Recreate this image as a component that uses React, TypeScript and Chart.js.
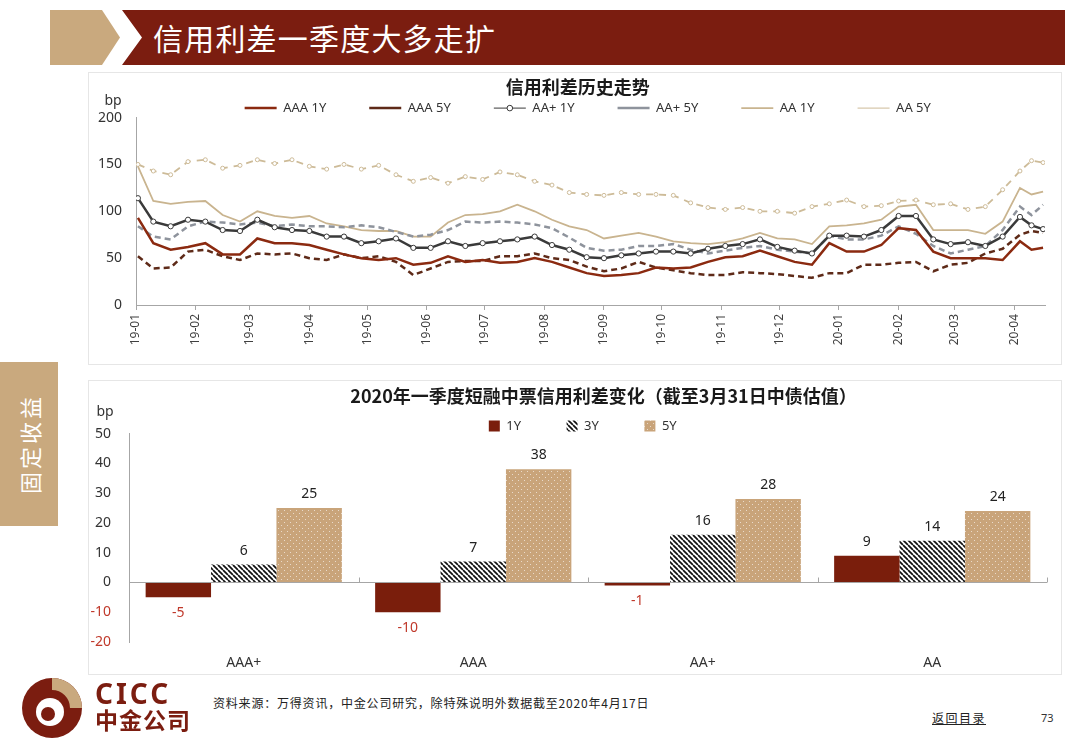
import React, { useEffect, useRef } from "react";
import { Chart, registerables } from "chart.js";

Chart.register(...registerables);

// ---------------- data ----------------
const dates = [
  "2019-01-02", "2019-01-10", "2019-01-19", "2019-01-28", "2019-02-06", "2019-02-15", "2019-02-24",
  "2019-03-05", "2019-03-14", "2019-03-23", "2019-04-01", "2019-04-10", "2019-04-19", "2019-04-28",
  "2019-05-07", "2019-05-16", "2019-05-25", "2019-06-03", "2019-06-12", "2019-06-21", "2019-06-30",
  "2019-07-09", "2019-07-18", "2019-07-27", "2019-08-05", "2019-08-14", "2019-08-23", "2019-09-01",
  "2019-09-10", "2019-09-19", "2019-09-28", "2019-10-07", "2019-10-16", "2019-10-25", "2019-11-03",
  "2019-11-12", "2019-11-21", "2019-11-30", "2019-12-09", "2019-12-18", "2019-12-27", "2020-01-05",
  "2020-01-14", "2020-01-23", "2020-02-01", "2020-02-10", "2020-02-19", "2020-02-28", "2020-03-08",
  "2020-03-17", "2020-03-26", "2020-04-04", "2020-04-10", "2020-04-16",
];

const aaa1y = [93, 66, 59, 62, 66, 54, 54, 71, 66, 66, 64, 59, 54, 50, 48, 50, 43, 45, 52, 46, 48, 45, 46, 50, 46, 40, 34, 31, 32, 34, 40, 39, 40, 46, 51, 52, 58, 52, 46, 43, 66, 57, 57, 64, 82, 80, 57, 50, 50, 50, 48, 68, 59, 61];
const aaa5y = [52, 39, 40, 57, 59, 52, 48, 55, 54, 55, 50, 48, 54, 50, 52, 46, 32, 39, 46, 47, 47, 52, 52, 55, 50, 48, 41, 36, 39, 46, 40, 37, 34, 32, 32, 35, 34, 33, 31, 29, 34, 34, 43, 43, 45, 46, 36, 43, 45, 55, 60, 75, 79, 77];
const aap1y = [114, 89, 84, 91, 89, 80, 79, 91, 83, 80, 79, 73, 73, 66, 68, 71, 61, 61, 68, 63, 66, 68, 70, 73, 64, 59, 51, 50, 53, 55, 57, 57, 55, 60, 63, 65, 70, 62, 58, 55, 74, 74, 73, 80, 95, 95, 70, 65, 67, 63, 73, 94, 85, 81];
const aap5y = [84, 73, 70, 84, 89, 88, 86, 88, 84, 86, 84, 84, 83, 85, 83, 78, 73, 75, 80, 89, 88, 89, 88, 86, 82, 72, 61, 58, 59, 63, 63, 65, 59, 55, 58, 61, 63, 59, 57, 55, 74, 70, 70, 74, 84, 76, 63, 55, 59, 63, 80, 105, 96, 107];
const aa1y = [148, 111, 108, 110, 111, 96, 89, 100, 95, 93, 95, 87, 84, 80, 79, 79, 73, 73, 88, 96, 97, 100, 107, 100, 91, 84, 80, 71, 74, 77, 73, 68, 66, 65, 67, 71, 77, 71, 70, 65, 84, 85, 87, 91, 105, 107, 80, 80, 80, 76, 89, 125, 118, 121];
const aa5y = [150, 143, 139, 153, 155, 146, 149, 155, 151, 155, 148, 145, 150, 145, 149, 139, 132, 136, 130, 137, 134, 142, 139, 132, 128, 120, 118, 117, 120, 118, 118, 117, 109, 104, 102, 104, 100, 100, 98, 105, 108, 112, 105, 106, 111, 112, 107, 108, 102, 105, 123, 143, 154, 152];

const lineSeriesNames = ["AAA 1Y", "AAA 5Y", "AA+ 1Y", "AA+ 5Y", "AA 1Y", "AA 5Y"];
const monthTicks = ["19-01", "19-02", "19-03", "19-04", "19-05", "19-06", "19-07", "19-08", "19-09", "19-10", "19-11", "19-12", "20-01", "20-02", "20-03", "20-04"];
const yTicksLine = [0, 50, 100, 150, 200];

const barCategories = ["AAA+", "AAA", "AA+", "AA"];
const barSeriesNames = ["1Y", "3Y", "5Y"];
const bar1Y = [-5, -10, -1, 9];
const bar3Y = [6, 7, 16, 14];
const bar5Y = [25, 38, 28, 24];

// ---------------- helpers ----------------
const DAY = 86400000;
const BASE = Date.UTC(2019, 0, 1);
const dayOf = (s: string) => {
  const [y, m, d] = s.split("-").map(Number);
  return Math.round((Date.UTC(y, m - 1, d) - BASE) / DAY);
};
const monthDay = (t: string) => {
  const [yy, mm] = t.split("-").map(Number);
  return Math.round((Date.UTC(2000 + yy, mm - 1, 1) - BASE) / DAY);
};
const END_DAY = dayOf("2020-04-17");

const LATIN = "'Noto Sans', 'DejaVu Sans', sans-serif";
const CJK = "'Noto Sans CJK SC', 'Noto Sans', sans-serif";
const EM = "\u2003";
const DARK_RED = "#7B1D10";
const TAN = "#C9A97E";
const AXIS = "#A6A6A6";
const CLEAR = "rgba(0,0,0,0)";

function makeHatch(): CanvasPattern | string {
  const s = 5;
  const c = document.createElement("canvas");
  c.width = s;
  c.height = s;
  const g = c.getContext("2d");
  if (!g) return "#555";
  g.fillStyle = "#ffffff";
  g.fillRect(0, 0, s, s);
  g.strokeStyle = "#111111";
  g.lineWidth = 1.7;
  g.beginPath();
  for (const x0 of [-s, 0, s]) {
    g.moveTo(x0, 0);
    g.lineTo(x0 + s, s);
  }
  g.stroke();
  return g.createPattern(c, "repeat") || "#555";
}

function makeDots(): CanvasPattern | string {
  const s = 6;
  const c = document.createElement("canvas");
  c.width = s;
  c.height = s;
  const g = c.getContext("2d");
  if (!g) return "#C9A47A";
  g.fillStyle = "#C9A47A";
  g.fillRect(0, 0, s, s);
  g.fillStyle = "rgba(255,255,255,0.6)";
  g.fillRect(1, 1, 1, 1);
  g.fillRect(4, 4, 1, 1);
  return g.createPattern(c, "repeat") || "#C9A47A";
}

const unitLabel = (dx: number, dy: number) => ({
  id: "unitLabel",
  afterDraw(chart: any) {
    const { ctx, chartArea } = chart;
    ctx.save();
    ctx.font = `14px ${LATIN}`;
    ctx.fillStyle = "#333";
    ctx.textAlign = "center";
    ctx.textBaseline = "middle";
    ctx.fillText("bp", chartArea.left + dx, chartArea.top + dy);
    ctx.restore();
  },
});

// invisible leading legend entry, used only to offset the centred legend row
const spacerItem = (pointStyle: string) => ({
  text: "",
  fillStyle: CLEAR,
  strokeStyle: CLEAR,
  lineWidth: 0,
  pointStyle,
  hidden: false,
  datasetIndex: -1,
});

function makeLineChart(canvas: HTMLCanvasElement) {
  const pts = (arr: number[]) => dates.map((d, i) => ({ x: dayOf(d), y: arr[i] }));
  const tickVals = monthTicks.map(monthDay);
  const tickLabel = new Map(monthTicks.map((t) => [monthDay(t), t]));
  const series = [aaa1y, aaa5y, aap1y, aap5y, aa1y, aa5y];
  const styles: any[] = [
    { borderColor: "#8B2A10", borderWidth: 2.5, pointRadius: 0 },
    { borderColor: "#5E2A18", borderWidth: 2.5, borderDash: [6, 4], pointRadius: 0 },
    { borderColor: "#3A3A3A", borderWidth: 2.5, pointRadius: 2.6, pointBackgroundColor: "#fff", pointBorderColor: "#3A3A3A", pointBorderWidth: 1 },
    { borderColor: "#8E939C", borderWidth: 2.5, borderDash: [6, 4], pointRadius: 0 },
    { borderColor: "#C9B48F", borderWidth: 1.8, pointRadius: 0 },
    { borderColor: "#CDBB98", borderWidth: 1.8, borderDash: [7, 6], pointRadius: 2, pointBackgroundColor: "#fff", pointBorderColor: "#CDBB98", pointBorderWidth: 1 },
  ];
  const legendMarker = {
    id: "legendMarker",
    afterDraw(chart: any) {
      const lg = chart.legend;
      if (!lg || !lg.legendHitBoxes || !lg.legendHitBoxes[3]) return;
      const hb = lg.legendHitBoxes[3];
      const { ctx } = chart;
      ctx.save();
      ctx.beginPath();
      ctx.arc(hb.left + 16, hb.top + 6.5, 2.8, 0, Math.PI * 2);
      ctx.fillStyle = "#fff";
      ctx.fill();
      ctx.lineWidth = 1;
      ctx.strokeStyle = "#3A3A3A";
      ctx.stroke();
      ctx.restore();
    },
  };
  return new Chart(canvas, {
    type: "line",
    data: {
      datasets: series.map((arr, i) => ({
        label: lineSeriesNames[i],
        data: pts(arr),
        tension: 0,
        fill: false,
        pointHoverRadius: 0,
        ...styles[i],
      })),
    },
    options: {
      responsive: false,
      animation: false,
      devicePixelRatio: 1,
      events: [],
      layout: { padding: { left: 0, right: 17, top: 0, bottom: 0 } },
      plugins: {
        title: {
          display: true,
          text: EM + "\u2005" + "信用利差历史走势",
          color: "#1a1a1a",
          font: { family: CJK, size: 18, weight: "bold", lineHeight: 1.2 },
          padding: { top: 4, bottom: 0 },
        },
        legend: {
          display: true,
          position: "top",
          maxHeight: 20,
          labels: {
            usePointStyle: true,
            pointStyle: "line",
            pointStyleWidth: 32,
            boxHeight: 13,
            padding: 4,
            color: "#333",
            font: { family: LATIN, size: 13 },
            generateLabels: (chart: any) => {
              const items = (Chart as any).defaults.plugins.legend.labels.generateLabels(chart);
              const real = items.map((it: any, i: number) => ({
                ...it,
                pointStyle: "line",
                text: it.text + (i < items.length - 1 ? EM + EM + EM : ""),
              }));
              return [spacerItem("line"), ...real];
            },
          },
        },
        tooltip: { enabled: false },
      },
      scales: {
        x: {
          type: "linear",
          min: 0,
          max: END_DAY,
          afterBuildTicks: (s: any) => {
            s.ticks = tickVals.map((v) => ({ value: v }));
          },
          afterFit: (s: any) => {
            s.height = 60;
          },
          ticks: {
            autoSkip: false,
            maxRotation: 90,
            minRotation: 90,
            padding: 4,
            color: "#404040",
            font: { family: LATIN, size: 12 },
            callback: (v: any) => tickLabel.get(Number(v)) ?? "",
          },
          grid: { display: true, drawOnChartArea: false, drawTicks: true, tickLength: 5, color: AXIS },
          border: { display: true, color: AXIS },
        },
        y: {
          min: 0,
          max: 200,
          afterBuildTicks: (s: any) => {
            s.ticks = yTicksLine.map((v) => ({ value: v }));
          },
          afterFit: (s: any) => {
            s.width = 48;
          },
          ticks: { padding: 14, color: "#333", font: { family: LATIN, size: 14 } },
          grid: { display: false, drawTicks: false },
          border: { display: true, color: AXIS },
        },
      },
    } as any,
    plugins: [legendMarker, unitLabel(-23, -17)],
  } as any);
}

function makeBarChart(canvas: HTMLCanvasElement) {
  const fills: any[] = ["#7A1E0C", makeHatch(), makeDots()];
  const values = [bar1Y, bar3Y, bar5Y];
  const barValues = {
    id: "barValues",
    afterDatasetsDraw(chart: any) {
      const { ctx } = chart;
      ctx.save();
      ctx.font = `14px ${LATIN}`;
      ctx.textAlign = "center";
      ctx.textBaseline = "middle";
      chart.data.datasets.forEach((ds: any, di: number) => {
        const meta = chart.getDatasetMeta(di);
        meta.data.forEach((el: any, i: number) => {
          const v = ds.data[i] as number;
          if (v >= 0) {
            ctx.fillStyle = "#222";
            ctx.fillText(String(v), el.x, el.y - 14);
          } else {
            ctx.fillStyle = "#C0392B";
            ctx.fillText(String(v), el.x, el.y + 16);
          }
        });
      });
      ctx.restore();
    },
  };
  const catTicks = {
    id: "catTicks",
    afterDatasetsDraw(chart: any) {
      const { ctx, chartArea, scales } = chart;
      const y0 = Math.round(scales.y.getPixelForValue(0)) + 0.5;
      const n = barCategories.length;
      ctx.save();
      ctx.strokeStyle = AXIS;
      ctx.lineWidth = 1;
      ctx.beginPath();
      for (let i = 1; i <= n; i++) {
        const x = Math.round(chartArea.left + (i * (chartArea.right - chartArea.left)) / n) + 0.5;
        ctx.moveTo(x, y0 - 5);
        ctx.lineTo(x, y0);
      }
      ctx.stroke();
      ctx.restore();
    },
  };
  return new Chart(canvas, {
    type: "bar",
    data: {
      labels: barCategories,
      datasets: values.map((arr, i) => ({
        label: barSeriesNames[i],
        data: arr,
        backgroundColor: fills[i],
        borderWidth: 0,
        categoryPercentage: 0.855,
        barPercentage: 1,
      })),
    },
    options: {
      responsive: false,
      animation: false,
      devicePixelRatio: 1,
      events: [],
      layout: { padding: { left: 0, right: 15, top: 0, bottom: 0 } },
      plugins: {
        title: {
          display: true,
          text: EM + EM + EM + EM + "2020年一季度短融中票信用利差变化（截至3月31日中债估值）",
          color: "#1a1a1a",
          font: { family: CJK, size: 18, weight: "bold", lineHeight: 1.2 },
          padding: { top: 5, bottom: 0 },
        },
        legend: {
          display: true,
          position: "top",
          maxHeight: 27,
          labels: {
            boxWidth: 11,
            boxHeight: 11,
            padding: 13,
            color: "#333",
            font: { family: LATIN, size: 13 },
            generateLabels: (chart: any) => {
              const items = (Chart as any).defaults.plugins.legend.labels.generateLabels(chart);
              const real = items.map((it: any, i: number) => ({
                ...it,
                lineWidth: 0,
                text: it.text + (i < items.length - 1 ? EM + EM + "\u2002" : ""),
              }));
              return [spacerItem("rect"), ...real];
            },
          },
        },
        tooltip: { enabled: false },
      },
      scales: {
        x: {
          grid: { display: false, drawTicks: false },
          border: { display: false },
          ticks: { padding: 13, color: "#333", font: { family: LATIN, size: 14 } },
          afterFit: (s: any) => {
            s.height = 33;
          },
        },
        y: {
          min: -20,
          max: 50,
          afterFit: (s: any) => {
            s.width = 41;
          },
          ticks: {
            stepSize: 10,
            padding: 18,
            font: { family: LATIN, size: 14 },
            color: (c: any) => (c.tick && c.tick.value < 0 ? "#C0392B" : "#333"),
          },
          grid: {
            drawTicks: false,
            lineWidth: 1,
            color: (c: any) => (c.tick && c.tick.value === 0 ? AXIS : CLEAR),
          },
          border: { display: true, color: AXIS },
        },
      },
    } as any,
    plugins: [barValues, catTicks, unitLabel(-24, -22)],
  } as any);
}

export default function App() {
  const lineRef = useRef<HTMLCanvasElement>(null);
  const barRef = useRef<HTMLCanvasElement>(null);

  useEffect(() => {
    const lc = lineRef.current ? makeLineChart(lineRef.current) : null;
    const bc = barRef.current ? makeBarChart(barRef.current) : null;
    return () => {
      lc?.destroy();
      bc?.destroy();
    };
  }, []);

  const abs = (s: React.CSSProperties): React.CSSProperties => ({ position: "absolute", ...s });

  return (
    <div
      style={{
        position: "absolute",
        left: 0,
        top: 0,
        width: 1080,
        height: 754,
        background: "#fff",
        overflow: "hidden",
        fontFamily: CJK,
      }}
    >
      {/* header */}
      <div style={abs({ left: 50, top: 10, width: 70, height: 55, background: TAN, clipPath: "polygon(0 0, 52px 0, 70px 50%, 52px 100%, 0 100%)" })} />
      <div style={abs({ left: 122, top: 10, width: 943, height: 55, background: DARK_RED, clipPath: "polygon(0 0, 100% 0, 100% 100%, 0 100%, 20px 50%)" })} />
      <div style={abs({ left: 153, top: 10, height: 55, lineHeight: "55px", color: "#fff", fontSize: 30, fontWeight: 400, letterSpacing: 1.2, whiteSpace: "nowrap" })}>
        信用利差一季度大多走扩
      </div>

      {/* side tab */}
      <div style={abs({ left: 0, top: 362, width: 58, height: 164, background: TAN })} />
      <div
        style={abs({
          left: 29,
          top: 444,
          color: "#fff",
          fontSize: 22,
          letterSpacing: 3,
          whiteSpace: "nowrap",
          transform: "translate(-50%, -50%) rotate(-90deg)",
          lineHeight: "24px",
        })}
      >
        固定收益
      </div>

      {/* charts */}
      <canvas ref={lineRef} width={974} height={293} style={abs({ left: 88, top: 72, width: 974, height: 293 })} />
      <div style={abs({ left: 88, top: 72, width: 974, height: 293, border: "1px solid #E6E6E6", boxSizing: "border-box", pointerEvents: "none" })} />
      <canvas ref={barRef} width={974} height={295} style={abs({ left: 88, top: 380, width: 974, height: 295 })} />
      <div style={abs({ left: 88, top: 380, width: 974, height: 295, border: "1px solid #E6E6E6", boxSizing: "border-box", pointerEvents: "none" })} />

      {/* footer logo */}
      <svg width={70} height={64} style={abs({ left: 18, top: 676 })} viewBox="0 0 70 64">
        <circle cx={34} cy={32} r={30} fill={DARK_RED} />
        <path d="M34 2 A30 30 0 0 1 64 32 L52 32 A18 18 0 0 0 34 14 Z" fill={TAN} />
        <circle cx={32} cy={36} r={14} fill="#fff" />
        <circle cx={30} cy={38} r={7} fill={DARK_RED} />
      </svg>
      <div style={abs({ left: 95, top: 676, fontFamily: LATIN, fontWeight: 700, fontSize: 28, letterSpacing: 3, color: DARK_RED, lineHeight: "34px" })}>CICC</div>
      <div style={abs({ left: 95, top: 705, fontFamily: CJK, fontWeight: 700, fontSize: 23, letterSpacing: 1, color: DARK_RED, lineHeight: "28px" })}>中金公司</div>

      <div style={abs({ left: 213, top: 695, fontSize: 12, letterSpacing: 0.8, color: "#222", whiteSpace: "nowrap", lineHeight: "16px" })}>
        资料来源：万得资讯，中金公司研究，除特殊说明外数据截至2020年4月17日
      </div>
      <div style={abs({ left: 932, top: 710, fontSize: 12, letterSpacing: 1.5, color: "#222", textDecoration: "underline", whiteSpace: "nowrap", lineHeight: "16px" })}>
        返回目录
      </div>
      <div style={abs({ left: 1041, top: 710, fontSize: 11, color: "#333", fontFamily: LATIN, lineHeight: "16px" })}>73</div>
    </div>
  );
}
